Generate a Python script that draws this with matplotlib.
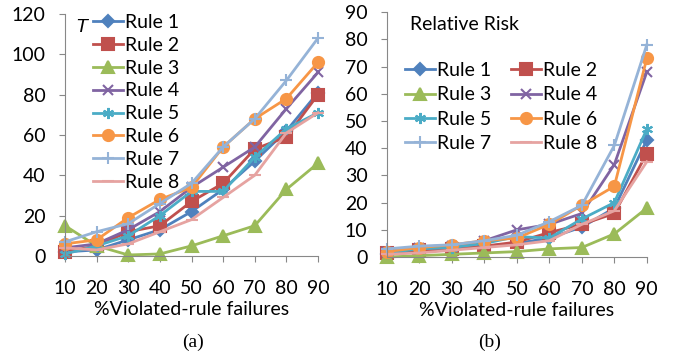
import numpy as np
import matplotlib
matplotlib.use("Agg")
import matplotlib.pyplot as plt

x = [10, 20, 30, 40, 50, 60, 70, 80, 90]
rules = ["Rule 1", "Rule 2", "Rule 3", "Rule 4", "Rule 5", "Rule 6", "Rule 7", "Rule 8"]

# (a) T
t_vals = [
    [2, 3, 8, 13, 22, 33, 47, 62, 81],
    [2, 5, 12, 15, 27, 36, 53, 59, 80],
    [15, 5, 0.5, 1, 5, 10, 15, 33, 46],
    [4, 6, 13, 22, 34, 44, 54, 73, 91],
    [1, 5, 10, 20, 32, 32, 49, 63, 71],
    [6, 8, 19, 28, 34, 54, 68, 78, 96],
    [7, 12, 16, 26, 36, 54, 68, 87, 108],
    [4, 3, 6, 12, 18, 29, 40, 61, 71],
]

# (b) relative risk
rr_vals = [
    [1, 2, 3, 4, 5, 7, 11, 18, 43],
    [1.5, 2.5, 3, 4, 5.5, 9, 12, 16, 38],
    [0, 0.5, 1, 1.5, 2, 3, 3.5, 8.5, 18],
    [2, 3.5, 4, 6, 10, 12, 16, 34, 68],
    [1.5, 3, 3.5, 5, 7.5, 7, 14, 20, 47],
    [2, 3.5, 4.5, 6, 7, 12, 19, 26, 73],
    [3, 4, 4.5, 6, 8, 13, 19, 41, 78],
    [1, 1.5, 2.5, 3.5, 4.5, 6, 12, 17, 35],
]

colors = ["#4F81BD", "#C0504D", "#9BBB59", "#8064A2", "#4BACC6", "#F79646", "#95B3D7", "#E6A3A1"]
markers = ["D", "s", "^", "x", (6, 2, 0), "o", "+", "_"]
msizes = [6, 8, 8, 7, 8, 8, 9, 8]

plt.rcParams['font.family'] = ['Lato', 'DejaVu Sans']
FS = 14

fig = plt.figure(figsize=(6.82, 3.56), dpi=100)
ax1 = fig.add_axes([0.0953, 0.281, 0.371, 0.680])
ax2 = fig.add_axes([0.5674, 0.278, 0.381, 0.688])


def draw(ax, vals):
    for i, v in enumerate(vals):
        ax.plot(x, v, color=colors[i], marker=markers[i], ms=msizes[i], lw=2,
                mec=colors[i], mew=1.5, label=rules[i], clip_on=False)
    ax.set_xlim(10, 90)
    ax.set_xticks(x)
    for s in ["top", "right"]:
        ax.spines[s].set_visible(False)
    for s in ["left", "bottom"]:
        ax.spines[s].set_color("#888888")
    ax.tick_params(colors="#888888", labelcolor="black", labelsize=FS, length=4)
    ax.tick_params(axis="x", pad=13)
    ax.tick_params(axis="y", pad=10)
    ax.set_xlabel("%Violated-rule failures", fontsize=FS, labelpad=3)


draw(ax1, t_vals)
ax1.set_ylim(0, 120)
ax1.set_yticks(range(0, 121, 20))
ax1.text(75 / 682, 1 - 27 / 356, "T", transform=fig.transFigure, fontsize=FS, style="italic",
         va="center", family="Liberation Sans")
ax1.legend(loc="upper left", bbox_to_anchor=(93 / 682, 1 - 14 / 356), bbox_transform=fig.transFigure,
           frameon=False, handlelength=1.55, handletextpad=0.1, labelspacing=0.3, borderpad=0,
           borderaxespad=0, fontsize=FS)

draw(ax2, rr_vals)
ax2.set_ylim(0, 90)
ax2.set_yticks(range(0, 91, 10))
ax2.text(410 / 682, 1 - 24 / 356, "Relative Risk", transform=fig.transFigure, fontsize=FS, va="center")
h, l = ax2.get_legend_handles_labels()
order = [0, 2, 4, 6, 1, 3, 5, 7]
ax2.legend([h[i] for i in order], [l[i] for i in order],
           loc="upper left", bbox_to_anchor=(405 / 682, 1 - 62 / 356), bbox_transform=fig.transFigure,
           ncol=2, frameon=False, handlelength=1.55, handletextpad=0.1, labelspacing=0.38, borderpad=0,
           borderaxespad=0, columnspacing=1.0, fontsize=FS)

fig.text(193 / 682, 1 - 342 / 356, "(a)", family="Liberation Serif", fontsize=14, ha="center", va="center")
fig.text(490 / 682, 1 - 342 / 356, "(b)", family="Liberation Serif", fontsize=14, ha="center", va="center")

fig.savefig("out.png", dpi=100)
